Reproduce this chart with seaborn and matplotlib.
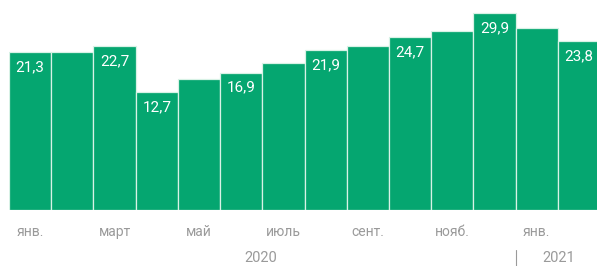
import numpy as np
import pandas as pd
import matplotlib
matplotlib.use("Agg")
import matplotlib.pyplot as plt
import seaborn as sns

# monthly values, Jan 2020 - Feb 2021 (unlabelled ones)
months = ['янв. 20', 'февр. 20', 'март 20', 'апр. 20', 'май 20', 'июнь 20', 'июль 20',
          'авг. 20', 'сент. 20', 'окт. 20', 'нояб. 20', 'дек. 20', 'янв. 21', 'февр. 21']
values = [21.3, 21.4, 22.7, 12.7, 15.5, 16.9, 19.1, 21.9, 22.8, 24.7, 26.0, 29.9, 26.6, 23.8]
shown = [True, False, True, True, False, True, False, True, False, True, False, True, False, True]
tick_labels = ['янв.', '', 'март', '', 'май', '', 'июль', '', 'сент.', '', 'нояб.', '', 'янв.', '']
years = ['2020', '2021']

base = -13.1   # the axis of the original does not start at zero
df = pd.DataFrame({'month': months, 'value': values})
df['height'] = df.value - base

sns.set_style('white')
plt.rcParams['font.family'] = ['Roboto', 'DejaVu Sans']

fig = plt.figure(figsize=(5.97, 2.66), dpi=100)
ax = fig.add_axes([9/597, 56/266, 591/597, 210/266])

sns.barplot(data=df, x='month', y='height', bottom=base, color='#05a670',
            saturation=1, width=1, edgecolor='#d8f2e6', linewidth=0.9, ax=ax)

for i, (v, s) in enumerate(zip(values, shown)):
    if s:
        ax.text(i, v - 3.3, f'{v:.1f}'.replace('.', ','), ha='center', va='center',
                color='white', fontsize=11)

ax.set_xlim(-0.5, 13.5)
ax.set_ylim(base, base + 210 / 4.58)
ax.set_xticks(range(len(months)))
ax.set_xticklabels(tick_labels)
ax.tick_params(axis='x', length=0, pad=11, labelsize=10, labelcolor='#9a9a9a')
ax.set_yticks([])
ax.set_xlabel('')
ax.set_ylabel('')
sns.despine(ax=ax, left=True, bottom=True)

ax.text(5.47, -0.23, years[0], transform=ax.get_xaxis_transform(), ha='center', va='center',
        fontsize=10.5, color='#9a9a9a')
ax.text(12.53, -0.23, years[1], transform=ax.get_xaxis_transform(), ha='center', va='center',
        fontsize=10.5, color='#9a9a9a')
ax.plot([11.5, 11.5], [-0.19, -0.27], transform=ax.get_xaxis_transform(), clip_on=False,
        color='#9a9a9a', lw=0.8)

fig.savefig('out.png', dpi=100)
